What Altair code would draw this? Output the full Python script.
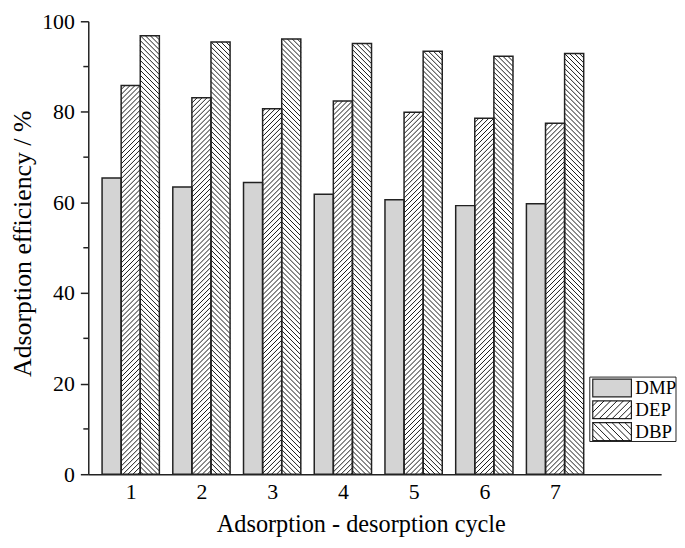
import math
import altair as alt
import pandas as pd

# ---- data ----
cycles = [1, 2, 3, 4, 5, 6, 7]
series = ["DMP", "DEP", "DBP"]
dmp = [65.4, 63.4, 64.4, 61.8, 60.6, 59.3, 59.7]
dep = [85.8, 83.1, 80.7, 82.4, 79.9, 78.6, 77.5]
dbp = [96.8, 95.4, 96.1, 95.1, 93.4, 92.3, 92.9]
y_ticks = [0, 20, 40, 60, 80, 100]
y_minor = [10, 30, 50, 70, 90]

# ---- layout / style ----
W, H = 578, 457
XMIN, XMAX = 0.4, 8.5
YMAX = 100
BW = 0.27
SX = W / (XMAX - XMIN)
SY = H / YMAX
FONT = "Liberation Serif"
INK = "#222222"
fill_range = ["#d4d4d4", "white", "white"]
hatch_dir = {"DMP": None, "DEP": "/", "DBP": "\\"}


def hatch_segments(X0, X1, Y0, Y1, direction, step):
    """45-degree hatch segments clipped to a rectangle (y axis pointing up)."""
    segs = []
    if direction == "/":
        k = math.ceil((Y0 - X1) / step) * step
        while k <= Y1 - X0:
            xa = max(X0, Y0 - k)
            xb = min(X1, Y1 - k)
            if xb - xa > 0.5:
                segs.append((xa, xa + k, xb, xb + k))
            k += step
    elif direction == "\\":
        k = math.ceil((X0 + Y0) / step) * step
        while k <= X1 + Y1:
            xa = max(X0, k - Y1)
            xb = min(X1, k - Y0)
            if xb - xa > 0.5:
                segs.append((xa, k - xa, xb, k - xb))
            k += step
    return segs


vals = {"DMP": dmp, "DEP": dep, "DBP": dbp}
bar_rows, hatch_rows = [], []
for j, s in enumerate(series):
    for c, v in zip(cycles, vals[s]):
        x0 = c + (j - 1.5) * BW
        x1 = x0 + BW
        bar_rows.append(dict(cycle=c, series=s, x0=x0, x1=x1, value=v))
        if hatch_dir[s]:
            X0, X1 = (x0 - XMIN) * SX, (x1 - XMIN) * SX
            for xa, ya, xb, yb in hatch_segments(X0, X1, 0, v * SY, hatch_dir[s], 5.0):
                hatch_rows.append(dict(x0=XMIN + xa / SX, value=ya / SY,
                                       x1=XMIN + xb / SX, v2=yb / SY))
bars = pd.DataFrame(bar_rows)
hatch = pd.DataFrame(hatch_rows)

# legend (pixel layout relative to the plot origin at page (89, 19))
LX0, LX1, LY0, LY1 = 506, 593, 359, 424
leg_rows, leg_hatch = [], []
for j, s in enumerate(series):
    top = 361 + 22 * j
    leg_rows.append(dict(series=s, sx0=509, sx1=548, sy0=top, sy1=top + 18,
                         tx=552, ty=top + 9.5))
    if hatch_dir[s]:
        for xa, ya, xb, yb in hatch_segments(509, 548, -(top + 18), -top, hatch_dir[s], 6.5):
            leg_hatch.append(dict(hx=xa, hy=-ya, hx2=xb, hy2=-yb))
leg = pd.DataFrame(leg_rows)
leg_h = pd.DataFrame(leg_hatch)

xscale = alt.Scale(domain=[XMIN, XMAX], nice=False, zero=False)
yscale = alt.Scale(domain=[0, YMAX], nice=False)
fscale = alt.Scale(domain=series, range=fill_range)

x_enc = alt.X("x0:Q", scale=xscale,
              axis=alt.Axis(values=cycles, format="d", tickSize=0, labelPadding=8,
                            labelFontSize=22, title="Adsorption - desorption cycle",
                            titleFontSize=24.5, titlePadding=10, titleX=275))
y_enc = alt.Y("value:Q", scale=yscale,
              axis=alt.Axis(values=y_ticks, tickSize=8, labelPadding=6, labelFontSize=22,
                            title="Adsorption efficiency / %", titleFontSize=26,
                            titlePadding=6, titleY=224))

bar_fill = alt.Chart(bars).mark_rect(strokeWidth=0).encode(
    x=x_enc, x2="x1:Q", y=y_enc, y2=alt.datum(0),
    fill=alt.Fill("series:N", scale=fscale, legend=None),
)
bar_hatch = alt.Chart(hatch).mark_rule(color="black", strokeWidth=0.9).encode(
    x=alt.X("x0:Q", scale=xscale), x2="x1:Q",
    y=alt.Y("value:Q", scale=yscale), y2="v2:Q",
)
bar_edge = alt.Chart(bars).mark_rect(filled=False, stroke=INK, strokeWidth=1.5).encode(
    x=alt.X("x0:Q", scale=xscale), x2="x1:Q",
    y=alt.Y("value:Q", scale=yscale), y2=alt.datum(0),
)
minor = alt.Chart(pd.DataFrame({"value": y_minor})).mark_rule(
    color=INK, strokeWidth=1.5).encode(
    y=alt.Y("value:Q", scale=yscale), x=alt.value(-5), x2=alt.value(0)
)

legend_box = alt.Chart(pd.DataFrame({"a": [0]})).mark_rect(
    fill="white", stroke=INK, strokeWidth=1).encode(
    x=alt.value(LX0), x2=alt.value(LX1), y=alt.value(LY0), y2=alt.value(LY1)
)
legend_sw = alt.Chart(leg).mark_rect(stroke=INK, strokeWidth=1.2).encode(
    x=alt.X("sx0:Q", scale=None), x2="sx1:Q",
    y=alt.Y("sy0:Q", scale=None), y2="sy1:Q",
    fill=alt.Fill("series:N", scale=fscale, legend=None),
)
legend_hatch = alt.Chart(leg_h).mark_rule(color="black", strokeWidth=0.9).encode(
    x=alt.X("hx:Q", scale=None), x2="hx2:Q",
    y=alt.Y("hy:Q", scale=None), y2="hy2:Q",
)
legend_txt = alt.Chart(leg).mark_text(
    font=FONT, fontSize=19, align="left", baseline="middle", color="black").encode(
    x=alt.X("tx:Q", scale=None), y=alt.Y("ty:Q", scale=None), text="series:N"
)

chart = alt.layer(
    bar_fill, bar_hatch, bar_edge, minor,
    legend_box, legend_sw, legend_hatch, legend_txt,
).properties(
    width=W, height=H,
    autosize=alt.AutoSizeParams(type="none"),
    padding={"left": 81, "top": 11, "right": 16, "bottom": 66},
).configure_view(stroke=None).configure_axis(
    grid=False, labelFont=FONT, titleFont=FONT, labelColor="black", titleColor="black",
    titleFontWeight="normal", domainColor=INK, tickColor=INK, domainWidth=1.5, tickWidth=1.5,
)

chart.save("out.html", embed_options={"renderer": "svg", "actions": False})
